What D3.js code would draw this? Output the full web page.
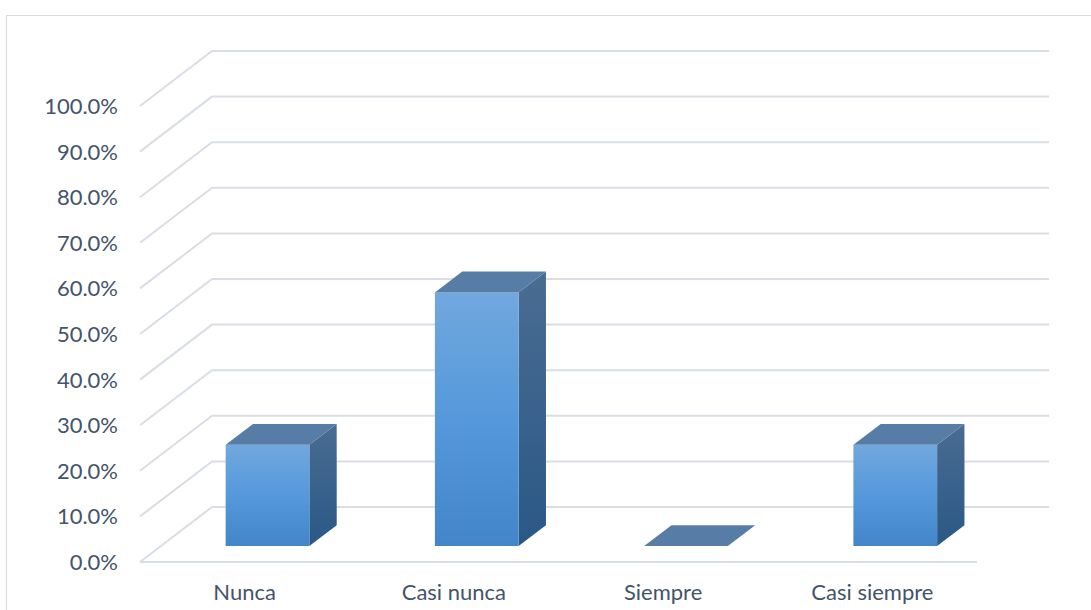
<!DOCTYPE html>
<html>
<head>
<meta charset="utf-8">
<script src="https://cdn.jsdelivr.net/npm/d3@7"></script>
<style>
  html, body { margin: 0; padding: 0; background: #ffffff; }
  svg { display: block; }
  text { font-family: Lato, "Open Sans", "Liberation Sans", sans-serif; fill: #44546a; }
</style>
</head>
<body>
<svg id="chart" width="1091" height="610"></svg>
<script>
// Category labels and shares (fractions of 1)
const categories = ["Nunca", "Casi nunca", "Siempre", "Casi siempre"];
const values = [0.222, 0.556, 0.0, 0.222];
const tickValues = [0, 0.1, 0.2, 0.3, 0.4, 0.5, 0.6, 0.7, 0.8, 0.9, 1.0];

const W = 1091, H = 610;
const svg = d3.select("#chart");

// Front plane of the plot box
const plotLeft = 140, plotRight = 977, plotBottom = 562, plotTop = 106;
// Full depth offset of the 3D box
const depthX = 72, depthY = 55;
// Bars occupy this slice of the depth
const barD0 = 0.29, barD1 = 0.67;

const x = d3.scaleBand().domain(categories).range([plotLeft, plotRight]).paddingInner(0).paddingOuter(0);
const y = d3.scaleLinear().domain([0, 1]).range([plotBottom, plotTop]);

const proj = (px, v, d) => [px + d * depthX, y(v) - d * depthY];

// Chart area border
svg.append("rect")
  .attr("x", 6.5).attr("y", 15.5)
  .attr("width", W + 10).attr("height", H + 10)
  .attr("fill", "none").attr("stroke", "#d9d9d9").attr("stroke-width", 1);

// Gradients
const defs = svg.append("defs");
const gFront = defs.append("linearGradient").attr("id", "front").attr("x1", 0).attr("y1", 0).attr("x2", 0).attr("y2", 1);
gFront.append("stop").attr("offset", "0%").attr("stop-color", "#71a8de");
gFront.append("stop").attr("offset", "50%").attr("stop-color", "#5598db");
gFront.append("stop").attr("offset", "100%").attr("stop-color", "#4285c8");
const gSide = defs.append("linearGradient").attr("id", "side").attr("x1", 0).attr("y1", 0).attr("x2", 0).attr("y2", 1);
gSide.append("stop").attr("offset", "0%").attr("stop-color", "#4a6c92");
gSide.append("stop").attr("offset", "100%").attr("stop-color", "#2a5886");

const grid = svg.append("g").attr("stroke", "#d9dde4").attr("stroke-width", 2).attr("fill", "none");
const line = d3.line();

tickValues.forEach(t => {
  const a = proj(plotLeft, t, 0), b = proj(plotLeft, t, 1), c = proj(plotRight, t, 1);
  grid.append("path").attr("d", line([a, b, c]));
});
// Front edge of the floor
grid.append("path").attr("d", line([proj(plotLeft, 0, 0), proj(plotRight, 0, 0)]));

// Value axis labels
svg.append("g").selectAll("text").data(tickValues).join("text")
  .attr("x", 118).attr("y", d => y(d))
  .attr("dy", "0.36em")
  .attr("text-anchor", "end")
  .style("font-size", "22px")
  .text(d => d3.format(".1%")(d));

// Category labels
svg.append("g").selectAll("text").data(categories).join("text")
  .attr("x", d => x(d) + x.bandwidth() / 2)
  .attr("y", 600)
  .attr("text-anchor", "middle")
  .style("font-size", "22px")
  .text(d => d);

// 3D columns
const bars = svg.append("g");
const poly = pts => "M" + pts.map(p => p.join(",")).join("L") + "Z";
categories.forEach((c, i) => {
  const v = values[i];
  const bw = x.bandwidth() * 0.4;
  const x0 = x(c) + (x.bandwidth() - bw) / 2 + 2, x1 = x0 + bw;
  const g = bars.append("g");
  if (v > 0) {
    // right side
    g.append("path").attr("fill", "url(#side)")
      .attr("d", poly([proj(x1, 0, barD0), proj(x1, v, barD0), proj(x1, v, barD1), proj(x1, 0, barD1)]));
    // front
    g.append("path").attr("fill", "url(#front)")
      .attr("d", poly([proj(x0, 0, barD0), proj(x0, v, barD0), proj(x1, v, barD0), proj(x1, 0, barD0)]));
  }
  // top
  g.append("path").attr("fill", "#577ca6")
    .attr("d", poly([proj(x0, v, barD0), proj(x0, v, barD1), proj(x1, v, barD1), proj(x1, v, barD0)]));
});
</script>
</body>
</html>
